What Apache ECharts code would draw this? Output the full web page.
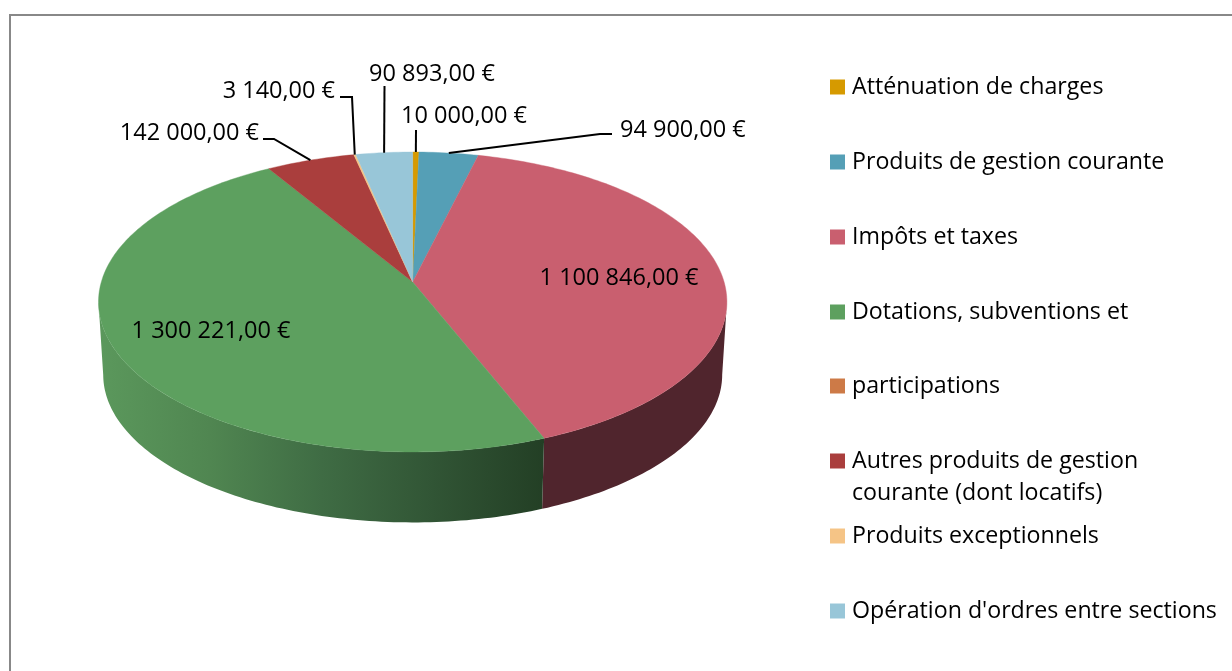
<!DOCTYPE html>
<html>
<head>
<meta charset="utf-8">
<title>Recettes</title>
<script src="https://cdn.jsdelivr.net/npm/echarts@6/dist/echarts.min.js"></script>
<style>
  html, body { margin: 0; background: #fff; }
  #chart { width: 1232px; height: 671px; }
</style>
</head>
<body>
<div id="chart"></div>
<script>
const categories = [
  'Atténuation de charges',
  'Produits de gestion courante',
  'Impôts et taxes',
  'Dotations, subventions et',
  'participations',
  'Autres produits de gestion courante (dont locatifs)',
  'Produits exceptionnels',
  "Opération d'ordres entre sections"
]
const values = [10000, 94900, 1100846, 1300221, 0, 142000, 3140, 90893]
const labelTexts = [
  '10 000,00 €',
  '94 900,00 €',
  '1 100 846,00 €',
  '1 300 221,00 €',
  '',
  '142 000,00 €',
  '3 140,00 €',
  '90 893,00 €'
]
const colors = ['#D69A00', '#559FB6', '#C95F6F', '#5DA05F', '#CD7A47', '#AA3E3D', '#F5C486', '#98C6D8']

const FONT = 'Open Sans'
const FONT_SIZE = 23.2
const LABEL_SIZE = 23.5

// label anchors and leader elbows, pure layout
const labelLayout = [
  { x: 464, y: 116, align: 'center', line: [[416, 130]] },
  { x: 620, y: 130, align: 'left', line: [[612, 134], [600, 134]] },
  { x: 619, y: 278, align: 'center' },
  { x: 211, y: 331, align: 'center' },
  null,
  { x: 259, y: 133, align: 'right', line: [[263, 139], [274, 139]] },
  { x: 335, y: 91, align: 'right', line: [[340, 97], [352, 97]] },
  { x: 432, y: 74, align: 'center', line: [[384.5, 86]] }
]

// tilted disc: apex of the slices and perspective of the rim
const apexX = 412.7
const apexY = 282
const scaleX = 311.4
const scaleY = 147.3
const persp = 0.1333
const depth = 73
const bottomScale = 0.985
const total = values.reduce((a, b) => a + b, 0)

function rim(share, bottom) {
  const a = share * Math.PI * 2
  const w = 1 + persp * Math.cos(a)
  const s = bottom ? bottomScale : 1
  return [
    apexX + scaleX * Math.sin(a) / w * s,
    apexY - scaleY * Math.cos(a) / w * s + (bottom ? depth : 0)
  ]
}

function arc(from, to, bottom) {
  const pts = []
  const n = Math.max(2, Math.ceil((to - from) * 360))
  for (let i = 0; i <= n; i++) {
    pts.push(rim(from + (to - from) * i / n, bottom))
  }
  return pts
}

const frontFrom = Math.acos(-persp) / (Math.PI * 2)
const frontTo = 1 - frontFrom

const wallGreen = {
  type: 'linear', x: 0, y: 0, x2: 1, y2: 0,
  colorStops: [
    { offset: 0, color: '#5B985C' },
    { offset: 0.25, color: '#508651' },
    { offset: 0.5, color: '#3F6C44' },
    { offset: 0.75, color: '#315535' },
    { offset: 1, color: '#233F25' }
  ]
}
const wallFill = { 2: '#50252D', 3: wallGreen }

function renderSlice(idx) {
  return function (params, api) {
    const from = api.value(0) / total
    const to = api.value(1) / total
    const children = []
    if (to <= from) {
      return { type: 'group', children }
    }
    const a = Math.max(from, frontFrom)
    const b = Math.min(to, frontTo)
    if (b > a) {
      children.push({
        type: 'polygon',
        z2: 1,
        shape: { points: arc(a, b, false).concat(arc(a, b, true).reverse()) },
        style: { fill: wallFill[idx] || colors[idx] }
      })
    }
    children.push({
      type: 'polygon',
      z2: 2,
      shape: { points: [[apexX, apexY]].concat(arc(from, to, false)) },
      style: { fill: colors[idx], stroke: colors[idx], lineWidth: 0.4 }
    })
    const lay = labelLayout[idx]
    if (lay.line) {
      children.push({
        type: 'polyline',
        z2: 3,
        shape: { points: lay.line.concat([rim((from + to) / 2, false)]) },
        style: { fill: null, stroke: '#000', lineWidth: 2 }
      })
    }
    children.push({
      type: 'text',
      z2: 4,
      style: {
        x: lay.x,
        y: lay.y,
        text: labelTexts[idx],
        align: lay.align,
        verticalAlign: 'middle',
        fill: '#000',
        font: LABEL_SIZE + 'px ' + FONT
      }
    })
    return { type: 'group', children }
  }
}

let running = 0
const series = categories.map((name, i) => {
  const start = running
  running += values[i]
  return {
    type: 'custom',
    name: name,
    coordinateSystem: 'none',
    renderItem: renderSlice(i),
    itemStyle: { color: colors[i] },
    silent: true,
    data: [[start, running]]
  }
})

const legendLines = { 5: '\nAutres produits de gestion\ncourante (dont locatifs)' }
const legendY = [87, 162, 237, 312, 386, 461, 536, 611]
const legends = categories.map((name, i) => ({
  data: [name],
  left: 830,
  top: legendY[i] - (legendLines[i] ? 48 : 16),
  padding: 0,
  icon: 'rect',
  itemWidth: 15,
  itemHeight: 15,
  selectedMode: false,
  formatter: () => legendLines[i] || name,
  textStyle: {
    fontFamily: FONT,
    fontSize: FONT_SIZE,
    lineHeight: 32,
    color: '#000',
    padding: [0, 0, 0, 2]
  }
}))

const chart = echarts.init(document.getElementById('chart'), null, { renderer: 'canvas' })
chart.setOption({
  animation: false,
  backgroundColor: '#fff',
  legend: legends,
  graphic: [{
    type: 'rect',
    silent: true,
    shape: { x: 10, y: 15, width: 1400, height: 900 },
    style: { fill: null, stroke: '#888', lineWidth: 2 }
  }],
  series: series
})
</script>
</body>
</html>
